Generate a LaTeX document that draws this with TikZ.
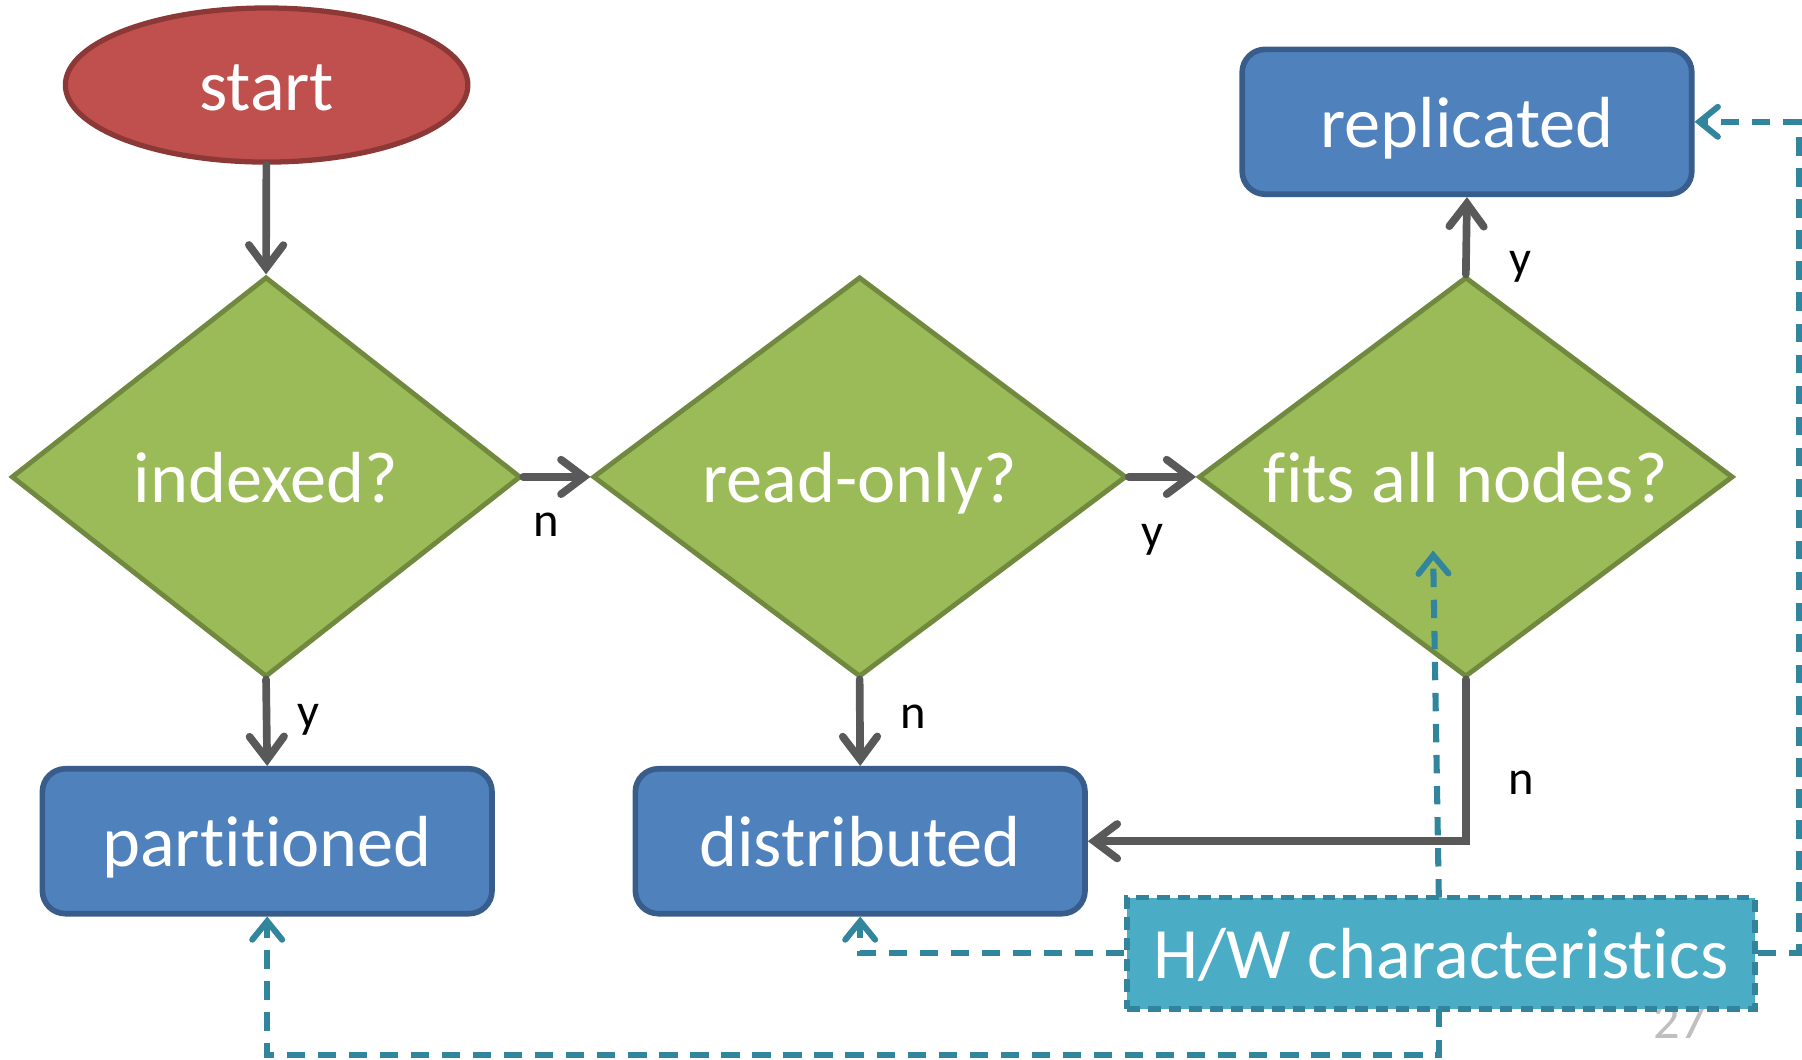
\documentclass[tikz,border=0pt]{standalone}
\usepackage{fontspec}
\setmainfont{Carlito}[Ligatures={NoCommon}]
\usetikzlibrary{shapes.geometric,arrows.meta}
\definecolor{startfill}{HTML}{C0504D}
\definecolor{startline}{HTML}{8C3836}
\definecolor{decfill}{HTML}{9BBB59}
\definecolor{decline}{HTML}{71893F}
\definecolor{boxfill}{HTML}{4F81BD}
\definecolor{boxline}{HTML}{385D8A}
\definecolor{hwfill}{HTML}{4BACC6}
\definecolor{hwline}{HTML}{31849B}
\definecolor{conn}{HTML}{595959}
\definecolor{tealconn}{HTML}{31859C}
\definecolor{pagegray}{HTML}{BFBFBF}
\tikzset{
  bigtext/.style={font=\fontsize{17.9}{20}\selectfont, text=white,
     text height=0.5cm, text depth=0.06cm},
  startnode/.style={ellipse, fill=startfill, draw=startline, line width=1.3pt,
     minimum width=3.5cm, minimum height=1.34cm, inner sep=0pt, bigtext},
  decision/.style={diamond, fill=decfill, draw=decline, line width=1.2pt,
     minimum width=#1, minimum height=3.48cm, inner sep=0pt},
  outbox/.style={rectangle, rounded corners=0.2cm, fill=boxfill, draw=boxline,
     line width=1.4pt, minimum width=3.91cm, minimum height=1.26cm, inner sep=0pt, bigtext},
  hwbox/.style={rectangle, fill=hwfill, draw=hwline, line width=1.4pt,
     dash pattern=on 0.11cm off 0.07cm, minimum width=5.46cm, minimum height=0.97cm,
     inner sep=0pt, bigtext},
  flow/.style={draw=conn, line width=1.9pt, line cap=round,
     -{Straight Barb[length=0.2cm,width=0.3cm,line cap=round]}},
  hwflow/.style={draw=tealconn, line width=1.5pt, dash pattern=on 0.16cm off 0.11cm,
     -{Straight Barb[length=0.16cm,width=0.26cm,line cap=round]}},
  lbl/.style={font=\fontsize{12}{14}\selectfont, text=black, inner sep=0pt}
}
\begin{document}
\begin{tikzpicture}[x=0.01cm,y=-0.01cm]
\useasboundingbox (0,0) rectangle (1568,922);

% page number (partly hidden behind the H/W box)
\node[font=\fontsize{13}{15}\selectfont, text=pagegray, anchor=base east, inner sep=0pt] (pg) at (1486,904) {27};

% nodes
\node[startnode] (start) at (232,74) {start};
\node[decision=4.43cm, label={[bigtext]center:indexed?}] (d1) at (231.5,415) {};
\node[decision=4.64cm, label={[bigtext]center:read-only?}] (d2) at (748,415) {};
\node[decision=4.65cm, label={[bigtext]center:fits all nodes?}] (d3) at (1275.5,415) {};
\node[outbox] (rep) at (1276.5,106) {replicated};
\node[outbox] (part) at (232.5,732) {partitioned};
\node[outbox] (dist) at (748.5,732) {distributed};
\node[hwbox] (hw) at (1254,829.5) {H/W characteristics};

% solid connectors
\draw[flow] (start) -- (d1.north);
\draw[flow] (d1.east) -- (d2.west);
\draw[flow] (d2.east) -- (d3.west);
\draw[flow] (d3.north) -- (rep.south);
\draw[flow] (d1.south) -- (part.north);
\draw[flow] (d2.south) -- (dist.north);
\draw[flow] (d3.south) |- (dist.east);

% labels
\node[lbl] (ln1) at (475,457) {n};
\node[lbl] (ly1) at (1003,470) {y};
\node[lbl] (ly2) at (1323,232) {y};
\node[lbl] (ly3) at (268,626) {y};
\node[lbl] (ln2) at (795,624) {n};
\node[lbl] (ln3) at (1324,681) {n};

% dashed connectors from H/W characteristics
\coordinate (hwtop) at (1252,781);
\coordinate (d3in) at (1247,479);
\coordinate (hwbot) at (1252,878);
\draw[hwflow] (hwtop) -- (d3in);
\draw[hwflow] (hw.west) -| (dist.south);
\draw[hwflow] (hwbot) -- (1252,918) -| (part.south);
\draw[hwflow] (hw.east) -- (1565,829.5) |- (rep.east);
\end{tikzpicture}
\end{document}
